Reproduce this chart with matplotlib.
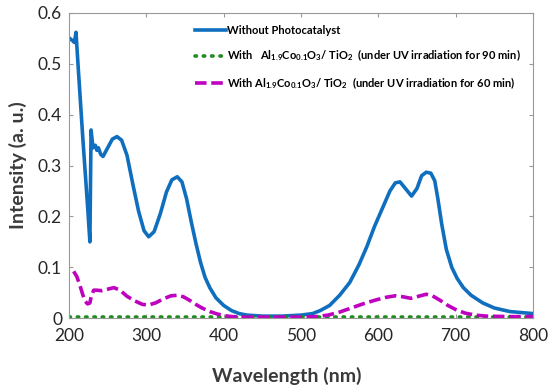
import matplotlib
matplotlib.use("Agg")
import matplotlib.pyplot as plt

plt.rcParams['font.family'] = ['Lato', 'DejaVu Sans']
plt.rcParams['mathtext.fontset'] = 'custom'
plt.rcParams['mathtext.rm'] = 'Lato:bold'
plt.rcParams['mathtext.default'] = 'regular'

# Without photocatalyst
wl_blue = [201, 205, 207, 209, 212, 218, 224, 227, 228.5, 231, 234, 236, 238, 241, 244,
           250, 256, 262, 268, 275, 283, 290, 297, 303, 310, 318, 326, 333, 340, 346,
           352, 358, 364, 370, 376, 382, 390, 400, 410, 420, 430, 450, 475, 500, 515,
           525, 537, 550, 563, 575, 585, 595, 605, 615, 622, 628, 635, 643, 650, 656,
           662, 668, 673, 677, 682, 688, 695, 702, 710, 720, 735, 750, 770, 800]
int_blue = [0.550, 0.545, 0.542, 0.562, 0.49, 0.35, 0.22, 0.150, 0.370, 0.335, 0.340, 0.330,
            0.335, 0.322, 0.318, 0.335, 0.352, 0.357, 0.350, 0.320, 0.260, 0.210, 0.172,
            0.160, 0.170, 0.205, 0.248, 0.272, 0.278, 0.268, 0.235, 0.190, 0.148, 0.110,
            0.080, 0.060, 0.040, 0.025, 0.015, 0.009, 0.006, 0.004, 0.004, 0.006, 0.009,
            0.015, 0.025, 0.045, 0.070, 0.105, 0.140, 0.180, 0.215, 0.250, 0.266, 0.268,
            0.255, 0.240, 0.255, 0.280, 0.287, 0.285, 0.270, 0.235, 0.185, 0.135, 0.100,
            0.078, 0.060, 0.045, 0.030, 0.020, 0.013, 0.009]

# With catalyst, UV 90 min
wl_green = [200, 300, 400, 500, 600, 700, 800]
int_green = [0.002, 0.002, 0.002, 0.002, 0.002, 0.002, 0.002]

# With catalyst, UV 60 min
wl_mag = [206, 210, 214, 218, 221, 224, 227, 229, 232, 236, 242, 250, 258, 266, 275, 285,
          295, 303, 312, 322, 332, 340, 348, 356, 364, 372, 382, 392, 405, 420, 450, 500,
          520, 535, 550, 565, 580, 595, 610, 622, 632, 642, 652, 662, 670, 680, 690, 700,
          712, 725, 740, 770, 800]
int_mag = [0.092, 0.082, 0.065, 0.045, 0.033, 0.028, 0.030, 0.045, 0.055, 0.055, 0.054,
           0.057, 0.060, 0.055, 0.043, 0.034, 0.027, 0.026, 0.030, 0.038, 0.044, 0.045,
           0.042, 0.035, 0.027, 0.020, 0.013, 0.008, 0.004, 0.002, 0.002, 0.002, 0.003,
           0.006, 0.012, 0.020, 0.028, 0.035, 0.041, 0.044, 0.042, 0.039, 0.043, 0.047,
           0.044, 0.035, 0.025, 0.017, 0.010, 0.006, 0.004, 0.003, 0.003]

labels = ['Without Photocatalyst',
          r'With   Al$_{1.9}$Co$_{0.1}$O$_3$/ TiO$_2$  (under UV irradiation for 90 min)',
          r'With Al$_{1.9}$Co$_{0.1}$O$_3$/ TiO$_2$  (under UV irradiation for 60 min)']

fig = plt.figure(figsize=(5.5, 3.88), dpi=100)
ax = fig.add_axes([0.1255, 0.180, 0.8435, 0.7865])

ax.plot(wl_blue, int_blue, color='#0F6FBE', lw=2.6, label=labels[0])
ax.plot(wl_green, int_green, color='#1E8C1E', lw=2.6, linestyle=(0, (0.4, 1.9)),
        dash_capstyle='round', label=labels[1])
ax.plot(wl_mag, int_mag, color='#BF00BF', lw=2.6, dashes=(3.2, 1.3), label=labels[2])

ax.set_xlim(200, 800)
ax.set_ylim(0, 0.6)
ax.set_xticks([200, 300, 400, 500, 600, 700, 800])
ax.set_yticks([0, 0.1, 0.2, 0.3, 0.4, 0.5, 0.6])
ax.set_yticklabels(['0', '0.1', '0.2', '0.3', '0.4', '0.5', '0.6'])
ax.tick_params(direction='in', top=True, right=True, labelsize=12.5, colors='#999999',
               labelcolor='#262626', length=3, width=0.8)
ax.tick_params(axis='x', pad=7)
ax.tick_params(axis='y', pad=5)
for s in ax.spines.values():
    s.set_color('#999999')
    s.set_linewidth(0.8)

ax.set_xlabel('Wavelength (nm)', fontsize=14, fontweight='bold', color='#3a3a3a', labelpad=12)
ax.xaxis.set_label_coords(0.47, -0.16)
ax.set_ylabel('Intensity (a. u.)', fontsize=14, fontweight='bold', color='#3a3a3a', labelpad=8)

leg = ax.legend(loc='upper left', bbox_to_anchor=(0.262, 0.975), frameon=False,
                prop={'weight': 'bold', 'size': 8.0}, handlelength=2.8, handletextpad=0.1,
                labelspacing=1.05, borderaxespad=0)

fig.savefig('out.png', dpi=100)
